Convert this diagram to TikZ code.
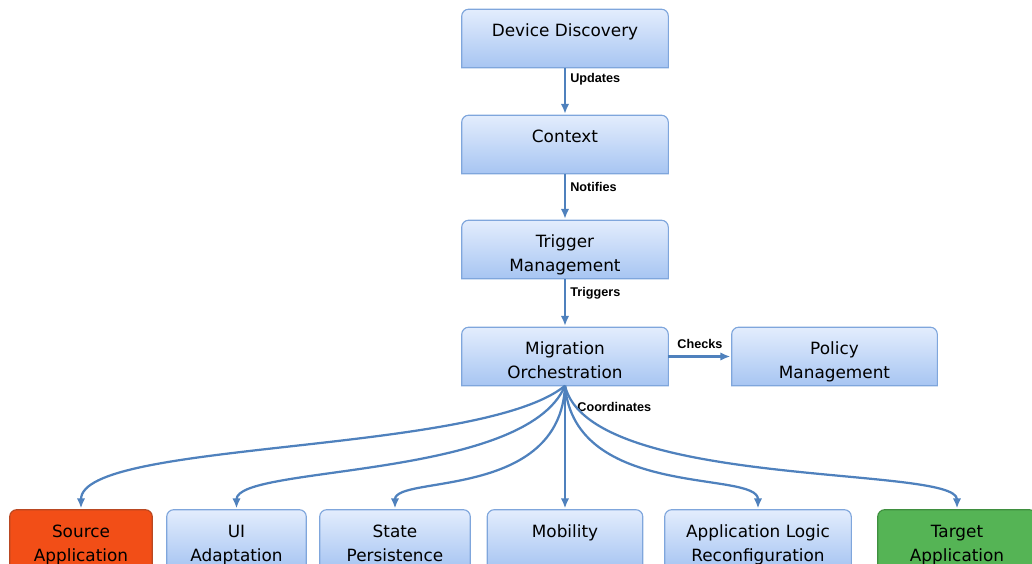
\documentclass[tikz,border=0pt]{standalone}
\usepackage{fontspec}
\setmainfont{DejaVu Sans}
\newfontfamily\lblfont{Liberation Sans}
\usetikzlibrary{arrows.meta,backgrounds}

\definecolor{wireblue}{RGB}{79,129,189}
\definecolor{boxtop}{RGB}{227,237,253}
\definecolor{boxbot}{RGB}{167,197,242}
\definecolor{boxline}{RGB}{127,166,220}
\definecolor{srcfill}{RGB}{242,78,23}
\definecolor{srcline}{RGB}{185,72,34}
\definecolor{tgtfill}{RGB}{85,180,85}
\definecolor{tgtline}{RGB}{63,143,63}

% box outline: rounded top corners, square bottom corners
\def\panel[#1](#2){\draw[#1] (#2.south west) -- ([yshift=-0.175cm]#2.north west) arc (180:90:0.175cm) -- ([xshift=-0.175cm]#2.north east) arc (90:0:0.175cm) -- (#2.south east) -- cycle;}

\tikzset{
	box/.style={minimum height=1.45cm, inner sep=0pt, align=center, text height=31.7pt, text depth=0pt, font=\fontsize{12pt}{17pt}\selectfont},
	box1/.style={box, text height=14.7pt, text depth=17pt},
	link/.style={line width=1.6pt, color=wireblue, -{Latex[length=7pt,width=6pt]}, shorten >=1pt},
	lbl/.style={font=\lblfont\bfseries\fontsize{9pt}{10pt}\selectfont, text=black, inner sep=2pt},
	bluebox/.style={draw=boxline, line width=0.8pt, top color=boxtop, bottom color=boxbot},
	srcbox/.style={draw=srcline, line width=0.8pt, fill=srcfill},
	tgtbox/.style={draw=tgtline, line width=0.8pt, fill=tgtfill}
}

\begin{document}
\begin{tikzpicture}[x=0.025cm, y=0.025cm]
			%%%%% START %%%%%
			\useasboundingbox (0, 0) rectangle (1032, -564);
			
			% main chain
			\node[box1, minimum width=5.15cm] (dev) at (565, -38.5) {Device Discovery};
			\node[box1, minimum width=5.15cm] (ctx) at (565, -144.5) {Context};
			\node[box, minimum width=5.15cm] (trig) at (565, -249.5) {Trigger\\Management};
			\node[box, minimum width=5.15cm] (mig) at (565, -356.5) {Migration\\Orchestration};
			\node[box, minimum width=5.125cm] (pol) at (834.5, -356.5) {Policy\\Management};
			
			% bottom row
			\node[box, minimum width=3.55cm] (src) at (81, -539) {Source\\Application};
			\node[box, minimum width=3.475cm] (ui) at (236.5, -539) {UI\\Adaptation};
			\node[box, minimum width=3.75cm] (state) at (395, -539) {State\\Persistence};
			\node[box1, minimum width=3.875cm] (mob) at (565, -539) {Mobility};
			\node[box, minimum width=4.65cm] (app) at (758, -539) {Application Logic\\Reconfiguration};
			\node[box, minimum width=3.95cm] (tgt) at (957, -539) {Target\\Application};
			
			\begin{scope}[on background layer]
				\panel[bluebox](dev)
				\panel[bluebox](ctx)
				\panel[bluebox](trig)
				\panel[bluebox](mig)
				\panel[bluebox](pol)
				\panel[srcbox](src)
				\panel[bluebox](ui)
				\panel[bluebox](state)
				\panel[bluebox](mob)
				\panel[bluebox](app)
				\panel[tgtbox](tgt)
			\end{scope}
			
			\draw[link] (dev) -- node[lbl, pos=0.25, right=1pt] {Updates} (ctx);
			\draw[link] (ctx) -- node[lbl, pos=0.28, right=1pt] {Notifies} (trig);
			\draw[link] (trig) -- node[lbl, pos=0.29, right=1pt] {Triggers} (mig);
			\draw[link] (mig) -- node[lbl, midway, above=3pt] {Checks} (pol);
			
			% fan out to the bottom row
			\draw[link] (mig.south) .. controls (480, -455) and (81, -440) .. (src.north);
			\draw[link] (mig.south) .. controls (525, -480) and (236.5, -465) .. (ui.north);
			\draw[link] (mig.south) .. controls (560, -500) and (395, -475) .. (state.north);
			\draw[link] (mig.south) -- node[lbl, pos=0.17, right=6pt] {Coordinates} (mob.north);
			\draw[link] (mig.south) .. controls (575, -500) and (758, -470) .. (app.north);
			\draw[link] (mig.south) .. controls (590, -490) and (957, -465) .. (tgt.north);
			
			%%%%% END %%%%%
		\end{tikzpicture}
\end{document}
